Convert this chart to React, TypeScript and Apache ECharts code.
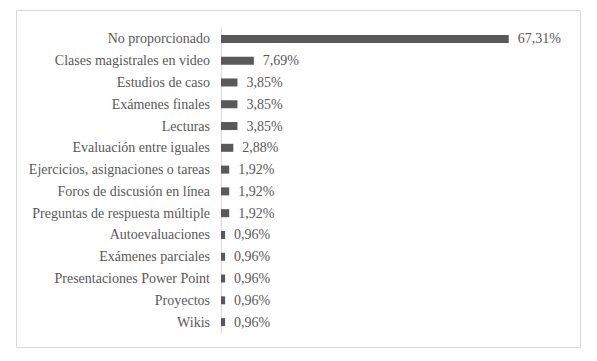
import React, { useEffect, useRef } from "react";
import * as echarts from "echarts";

const categories = [
  "No proporcionado",
  "Clases magistrales en video",
  "Estudios de caso",
  "Exámenes finales",
  "Lecturas",
  "Evaluación entre iguales",
  "Ejercicios, asignaciones o tareas",
  "Foros de discusión en línea",
  "Preguntas de respuesta múltiple",
  "Autoevaluaciones",
  "Exámenes parciales",
  "Presentaciones Power Point",
  "Proyectos",
  "Wikis",
];
const values = [67.31, 7.69, 3.85, 3.85, 3.85, 2.88, 1.92, 1.92, 1.92, 0.96, 0.96, 0.96, 0.96, 0.96];

export default function App() {
  const ref = useRef<HTMLDivElement>(null);
  useEffect(() => {
    if (!ref.current) return;
    const font = "serif";
    const txt = { fontFamily: font, fontSize: 14, color: "#595959" };
    const chart = echarts.init(ref.current, null, { renderer: "svg" });
    chart.setOption({
      animation: false,
      backgroundColor: "#ffffff",
      textStyle: { fontFamily: font },
      graphic: [
        {
          type: "rect",
          shape: { x: 16.5, y: 10.5, width: 564, height: 337 },
          style: { fill: "none", stroke: "#d9d9d9", lineWidth: 1 },
          silent: true,
        },
      ],
      grid: { left: 221, top: 28, width: 342, height: 305, containLabel: false },
      xAxis: {
        type: "value",
        min: 0,
        max: 80,
        show: false,
      },
      yAxis: {
        type: "category",
        inverse: true,
        data: categories,
        axisLine: { show: true, lineStyle: { color: "#d9d9d9", width: 1 } },
        axisTick: { show: false },
        axisLabel: { ...txt, margin: 11 },
      },
      series: [
        {
          type: "bar",
          data: values,
          barWidth: 8,
          itemStyle: { color: "#595959" },
          label: {
            show: true,
            position: "right",
            distance: 9,
            ...txt,
            formatter: (p: any) => p.value.toFixed(2).replace(".", ",") + "%",
          },
        },
      ],
    });
    return () => chart.dispose();
  }, []);
  return (
    <>
      <style>{`.chart-root svg text { font-family: "Liberation Serif", serif !important; }`}</style>
      <div
        ref={ref}
        className="chart-root"
        style={{ position: "fixed", left: 0, top: 0, width: 597, height: 361 }}
      />
    </>
  );
}
